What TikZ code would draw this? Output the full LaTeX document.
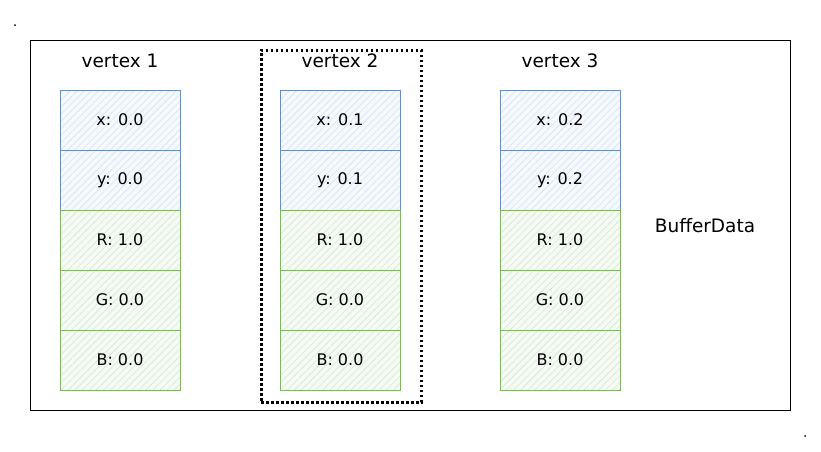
\documentclass[tikz,border=0pt]{standalone}
\usepackage{fontspec}
\setmainfont{DejaVu Sans}
\usetikzlibrary{patterns.meta}
\definecolor{bstroke}{HTML}{6C8EBF}
\definecolor{bhatch}{HTML}{D4E3F6}
\definecolor{bfill}{HTML}{F5F9FE}
\definecolor{gstroke}{HTML}{82B366}
\definecolor{ghatch}{HTML}{D5E8D0}
\definecolor{gfill}{HTML}{F6FAF4}
\tikzset{
  cellbase/.style={minimum width=120pt,minimum height=60pt,inner sep=0pt,font=\fontsize{16}{18}\selectfont,line width=1pt},
  bluecell/.style={cellbase,draw=bstroke,preaction={fill=bfill},pattern={Lines[angle=45,distance=5pt,line width=0.6pt]},pattern color=bhatch},
  greencell/.style={cellbase,draw=gstroke,preaction={fill=gfill},pattern={Lines[angle=45,distance=5pt,line width=0.6pt]},pattern color=ghatch},
  title/.style={font=\fontsize{18.5}{20}\selectfont,inner sep=0pt},
}
\begin{document}
\begin{tikzpicture}[x=1pt,y=-1pt]
\useasboundingbox (0,0) rectangle (821,451);
\fill[white] (0,0) rectangle (821,451);
\node[draw,line width=1.3pt,minimum width=760pt,minimum height=370pt,inner sep=0pt,anchor=north west] (outer) at (30,40) {};
\node[draw,dash pattern=on 2.5pt off 2.5pt,line width=2.5pt,minimum width=160pt,minimum height=352pt,inner sep=0pt,anchor=north west] (sel) at (260,49) {};
\foreach \i/\cx/\xv/\yv in {1/120/0.0/0.0, 2/340/0.1/0.1, 3/560/0.2/0.2} {
  \node[title] (t\i) at (\cx,61) {vertex \i};
  \node[bluecell] (x\i) at (\cx,120) {x: \xv};
  \node[bluecell] (y\i) at (\cx,180) {y: \yv};
  \node[greencell] (r\i) at (\cx,240) {R: 1.0};
  \node[greencell] (g\i) at (\cx,300) {G: 0.0};
  \node[greencell] (b\i) at (\cx,360) {B: 0.0};
}
\node[title] (bd) at (705,226) {BufferData};
\fill (15,25) circle (1pt);
\fill (805,436) circle (1pt);
\end{tikzpicture}
\end{document}
